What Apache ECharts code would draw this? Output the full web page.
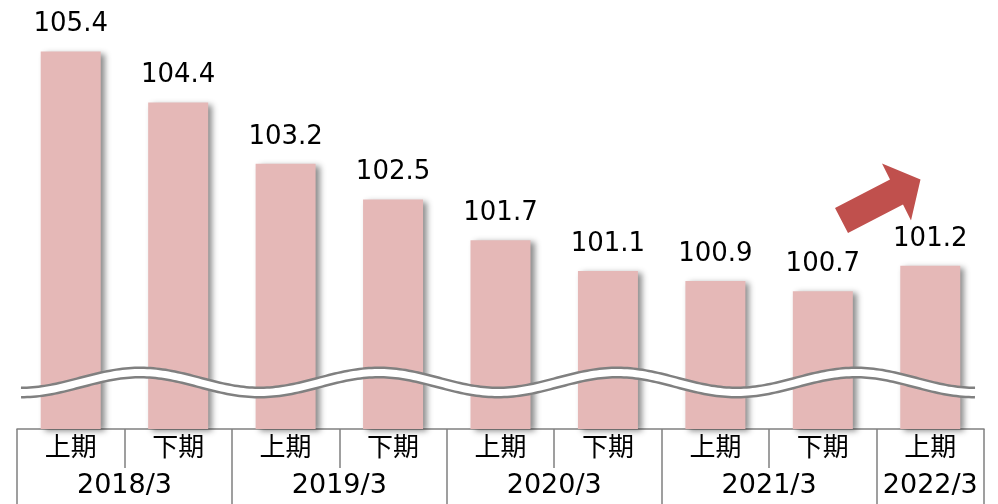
<!DOCTYPE html>
<html>
<head>
<meta charset="utf-8">
<script src="https://cdn.jsdelivr.net/npm/echarts@6/dist/echarts.min.js"></script>
<style>
  html, body { margin: 0; padding: 0; background: #fff; }
  #chart { width: 998px; height: 504px; }
</style>
</head>
<body>
<div id="chart"></div>
<script>
  // 期（上期/下期）
  var halves = ['上期', '下期', '上期', '下期', '上期', '下期', '上期', '下期', '上期'];
  // 年度ラベルと、その年度が占める期の数
  var years = ['2018/3', '2019/3', '2020/3', '2021/3', '2022/3'];
  var yearSpans = [2, 2, 2, 2, 1];
  // 値
  var values = [105.4, 104.4, 103.2, 102.5, 101.7, 101.1, 100.9, 100.7, 101.2];

  // 年度の区切り位置と中央位置（期の数で）
  var yearBounds = [0];
  var yearCenters = [];
  yearSpans.forEach(function (s, i) {
    yearCenters.push(yearBounds[i] + s / 2);
    yearBounds.push(yearBounds[i] + s);
  });

  // 省略の波線
  function wavePoints(x0, x1, yc, amp, period) {
    var pts = [];
    for (var x = x0; x <= x1; x += 3) {
      pts.push([x, yc + amp * Math.cos(2 * Math.PI * (x - x0) / period)]);
    }
    return pts;
  }
  var wave = wavePoints(21, 976, 382.5, 10, 238.5);

  var chart = echarts.init(document.getElementById('chart'));
  var option = {
    animation: false,
    grid: { left: 17, right: 14, top: 21, bottom: 75 },
    xAxis: [
      {
        type: 'category',
        data: halves,
        axisLine: { lineStyle: { color: '#808080', width: 1.5 } },
        axisTick: { show: true, interval: 0, length: 39, lineStyle: { color: '#808080', width: 1.5 } },
        axisLabel: {
          interval: 0, margin: 4,
          color: '#000', fontSize: 26, fontFamily: 'Noto Sans CJK JP'
        }
      },
      {
        type: 'value',
        position: 'bottom',
        min: 0, max: halves.length,
        axisLine: { show: false },
        splitLine: { show: false },
        axisTick: {
          show: true, length: 75, customValues: yearBounds,
          lineStyle: { color: '#808080', width: 1.5 }
        },
        axisLabel: {
          customValues: yearCenters, margin: 43,
          color: '#000', fontSize: 27, fontFamily: 'DejaVu Sans',
          formatter: function (v) {
            var i = yearCenters.indexOf(v);
            return i >= 0 ? years[i] : '';
          }
        }
      }
    ],
    yAxis: {
      type: 'value', min: 98, max: 106,
      show: false
    },
    series: [
      {
        type: 'bar',
        data: values,
        barWidth: 60,
        itemStyle: {
          color: '#E5B8B7',
          shadowColor: 'rgba(0,0,0,0.45)',
          shadowBlur: 6,
          shadowOffsetX: 4,
          shadowOffsetY: 2
        },
        label: {
          show: true, position: 'top', distance: 14,
          color: '#000', fontSize: 26, fontFamily: 'DejaVu Sans',
          formatter: function (p) { return p.value.toFixed(1); }
        }
      }
    ],
    graphic: [
      {
        type: 'polyline', z: 100,
        shape: { points: wave },
        style: { stroke: '#808080', lineWidth: 12, fill: null, lineCap: 'butt' }
      },
      {
        type: 'polyline', z: 101,
        shape: { points: wave },
        style: { stroke: '#ffffff', lineWidth: 7, fill: null, lineCap: 'butt' }
      },
      {
        type: 'polygon', z: 100,
        shape: { points: [[835, 208], [890, 179.5], [882, 163.5], [920.5, 179.5], [911, 220.5], [903, 204.5], [848, 233]] },
        style: { fill: '#C0504D' }
      }
    ]
  };
  chart.setOption(option);
</script>
</body>
</html>
